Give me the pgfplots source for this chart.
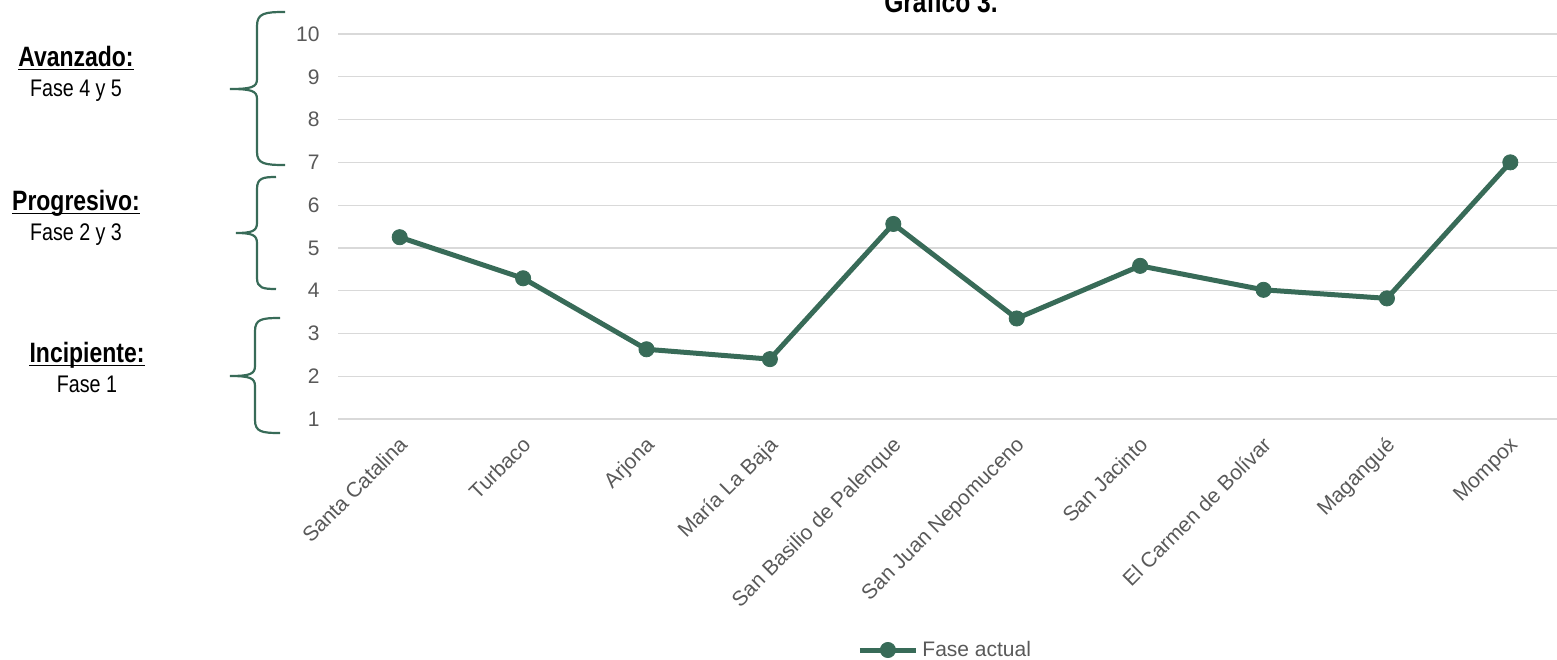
\documentclass[border=0pt]{standalone}
\usepackage{fontspec}
\setmainfont{Liberation Sans}
\newfontfamily\condfont{Liberation Sans}[FakeStretch=0.82]
\usepackage{pgfplots}
\pgfplotsset{compat=1.18}

\definecolor{fase}{HTML}{386B58}
\definecolor{grisgrid}{HTML}{D9D9D9}
\definecolor{gristexto}{HTML}{595959}

\begin{document}
\begin{tikzpicture}
\begin{axis}[
  at={(169pt,-209.5pt)}, anchor=south west,
  scale only axis, width=617pt, height=192.5pt,
  xmin=-0.5, xmax=9.5, ymin=1, ymax=10,
  axis line style={draw=none},
  ytick={1,...,10},
  xtick={0,...,9},
  xticklabels={Santa Catalina, Turbaco, Arjona, María La Baja,
    San Basilio de Palenque, San Juan Nepomuceno, San Jacinto,
    El Carmen de Bolívar, Magangué, Mompox},
  major tick length=0pt,
  ymajorgrids, grid style={grisgrid, line width=0.6pt},
  tick label style={font=\fontsize{10.5}{12}\selectfont, text=gristexto},
  /pgf/number format/assume math mode=true,
  yticklabel style={anchor=east, inner sep=0pt, xshift=-9pt},
  xticklabel style={inner sep=0pt, xshift=-1pt, yshift=-8pt, rotate=45, anchor=north east},
  legend style={draw=none, fill=none, inner sep=0pt, at={(0.4206,-0.6)}, anchor=west,
    font=\fontsize{10.5}{12}\selectfont, text=gristexto},
  legend image code/.code={
    \draw[#1, mark repeat=2, mark phase=2] plot coordinates {(0pt,0pt) (14pt,0pt) (28pt,0pt)};},
  clip=false,
]
\addplot[fase, line width=2.5pt, mark=*, mark size=3.8pt,
         mark options={solid, line width=0.4pt}]
  coordinates {(0,5.25) (1,4.29) (2,2.63) (3,2.40) (4,5.56)
               (5,3.35) (6,4.58) (7,4.02) (8,3.82) (9,7.00)};
\addlegendentry{Fase actual}
\end{axis}

\begin{scope}[x=0.5pt, y=-0.5pt]
  % title, partly above the page
  \node[anchor=base, inner sep=0pt, font=\condfont\bfseries\fontsize{15}{18}\selectfont]
    at (941,12) {Gráfico 3.};

  % braces grouping the phases
  \begin{scope}[draw=fase, line width=1.1pt]
    \draw (285,12) .. controls (265,12) and (257,13) .. (257,26) -- (257,79)
      .. controls (257,87) and (252,89) .. (230,89)
      .. controls (252,89) and (257,91) .. (257,99) -- (257,152)
      .. controls (257,164) and (265,165) .. (285,165);
    \draw (276,177) .. controls (263,177) and (257,178) .. (257,189) -- (257,223)
      .. controls (257,231) and (252,233) .. (236,233)
      .. controls (252,233) and (257,235) .. (257,243) -- (257,278)
      .. controls (257,288) and (263,289) .. (276,289);
    \draw (280,318) .. controls (262,318) and (255,319) .. (255,331) -- (255,366)
      .. controls (255,374) and (250,376) .. (230,376)
      .. controls (250,376) and (255,378) .. (255,386) -- (255,420)
      .. controls (255,432) and (262,433) .. (280,433);
  \end{scope}

  % phase labels
  \begin{scope}[every node/.style={anchor=base, inner sep=0pt}]
    \node[font=\condfont\bfseries\fontsize{14}{16}\selectfont] (a) at (76,66) {Avanzado:};
    \node[font=\condfont\fontsize{12}{14}\selectfont] at (76,96) {Fase 4 y 5};
    \node[font=\condfont\bfseries\fontsize{14}{16}\selectfont] (p) at (76,210) {Progresivo:};
    \node[font=\condfont\fontsize{12}{14}\selectfont] at (76,240) {Fase 2 y 3};
    \node[font=\condfont\bfseries\fontsize{14}{16}\selectfont] (i) at (87,362) {Incipiente:};
    \node[font=\condfont\fontsize{12}{14}\selectfont] at (87,392) {Fase 1};
  \end{scope}
  \foreach \n in {a,p,i}
    \draw[line width=0.7pt] ([yshift=-1.6pt]\n.base west) -- ([yshift=-1.6pt]\n.base east);

  \pgfresetboundingbox
  \path[use as bounding box] (0,0) rectangle (1557,659);
\end{scope}
\end{tikzpicture}
\end{document}
